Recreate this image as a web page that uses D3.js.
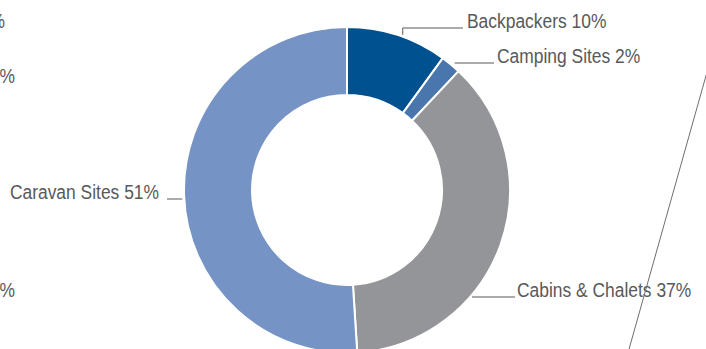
<!DOCTYPE html>
<html>
<head>
<meta charset="utf-8">
<script src="https://cdn.jsdelivr.net/npm/d3@7"></script>
<style>
  html, body { margin: 0; padding: 0; background: #fff; }
  svg { display: block; }
  text { font-family: "Liberation Sans", Arial, sans-serif; fill: #58595b; }
</style>
</head>
<body>
<svg id="chart" width="706" height="349"></svg>
<script>
// Accommodation share by type
const categories = ["Backpackers", "Camping Sites", "Cabins & Chalets", "Caravan Sites"];
const shares = [10, 2, 37, 51];
const colors = ["#00518f", "#4a76ae", "#939598", "#7593c4"];

// Fragments of neighbouring labels that run off the left edge
const edgeLabels = ["%", "%", "%"];

// Label placement: angle (deg, clockwise from top) where the leader meets the ring,
// label baseline, leader end x and text x / anchor.
const labelLayout = [
  { angle: 20,   y: 28,  lineEnd: 463, textX: 467, anchor: "start", elbow: true },
  { angle: 40.4, y: 63,  lineEnd: 494, textX: 497, anchor: "start", elbow: false },
  { angle: 131,  y: 297, lineEnd: 515, textX: 517, anchor: "start", elbow: false },
  { angle: 266.8,y: 199, lineEnd: 167, textX: 159, anchor: "end",   elbow: false }
];
const edgeLayout = [
  { x: 5,  y: 28 },
  { x: 15, y: 83 },
  { x: 15, y: 297 }
];

const fontSize = 21, condense = 0.83;

const svg = d3.select("#chart");
const cx = 347, cy = 190, outerR = 163, innerR = 95;

const data = categories.map((c, i) => ({ name: c, value: shares[i], color: colors[i] }));

const pie = d3.pie().value(d => d.value).sort(null);
const arc = d3.arc().innerRadius(innerR).outerRadius(outerR);

const g = svg.append("g").attr("transform", `translate(${cx},${cy})`);

g.selectAll("path.slice")
  .data(pie(data))
  .join("path")
  .attr("class", "slice")
  .attr("d", arc)
  .attr("fill", d => d.data.color)
  .attr("stroke", "#fff")
  .attr("stroke-width", 2);

function condensedText(x, y, anchor, str) {
  svg.append("text")
    .attr("transform", `translate(${x},${y}) scale(${condense},1)`)
    .attr("text-anchor", anchor)
    .attr("font-size", fontSize)
    .text(str);
}

// Leader lines and labels
const toRad = a => a * Math.PI / 180;
data.forEach((d, i) => {
  const L = labelLayout[i];
  const px = cx + outerR * Math.sin(toRad(L.angle));
  const py = cy - outerR * Math.cos(toRad(L.angle));
  const gap = 2;
  let pts;
  if (L.elbow) {
    pts = [[px, py - gap], [px, L.y], [L.lineEnd, L.y]];
  } else if (L.anchor === "start") {
    pts = [[px + gap, L.y], [L.lineEnd, L.y]];
  } else {
    pts = [[px - gap, L.y], [L.lineEnd, L.y]];
  }
  svg.append("path")
    .attr("d", d3.line()(pts))
    .attr("fill", "none")
    .attr("stroke", "#58595b")
    .attr("stroke-width", 1);
  condensedText(L.textX, L.y, L.anchor, `${d.name} ${d.value}%`);
});

// Neighbouring label fragments at left edge
edgeLabels.forEach((t, i) => {
  condensedText(edgeLayout[i].x, edgeLayout[i].y, "end", t);
});

// Thin diagonal divider at the right
svg.append("line")
  .attr("x1", 720).attr("y1", 26)
  .attr("x2", 624).attr("y2", 367)
  .attr("stroke", "#6d6e71")
  .attr("stroke-width", 1);
</script>
</body>
</html>
